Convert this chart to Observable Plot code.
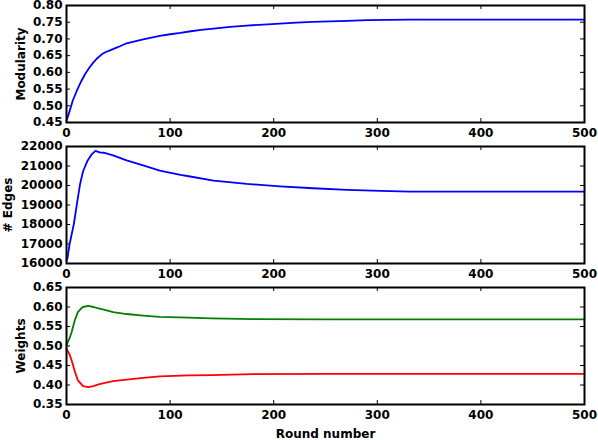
<!DOCTYPE html>
<html>
<head>
<meta charset="utf-8">
<script src="https://cdn.jsdelivr.net/npm/d3@7"></script>
<script src="https://cdn.jsdelivr.net/npm/@observablehq/plot@0.6"></script>
<style>
  html, body { margin: 0; padding: 0; background: white; }
  #chart { width: 598px; height: 440px; position: relative; }
  #chart svg { display: block; }
</style>
</head>
<body>
<div id="chart"></div>
<script>
// ---- Data ----
const xTicks = [0, 100, 200, 300, 400, 500];

const modRounds = [0, 3, 6, 10, 14, 18, 22, 26, 30, 34, 38, 42, 50, 58, 66, 74, 82, 90, 100, 110, 120, 130, 142, 158, 174, 190, 206, 222, 238, 254, 271, 290, 309, 332, 360, 400, 450, 500];
const modularity = [0.455, 0.484, 0.515, 0.545, 0.572, 0.595, 0.614, 0.630, 0.643, 0.654, 0.661, 0.666, 0.676, 0.687, 0.693, 0.699, 0.704, 0.709, 0.714, 0.718, 0.723, 0.727, 0.731, 0.736, 0.740, 0.743, 0.746, 0.749, 0.751, 0.7525, 0.754, 0.756, 0.757, 0.7575, 0.758, 0.758, 0.758, 0.758];
const modTicks = [0.45, 0.50, 0.55, 0.60, 0.65, 0.70, 0.75, 0.80];

const edgeRounds = [0, 1, 3, 7, 10, 13, 16, 20, 24, 28, 32, 36, 45, 58, 74, 90, 110, 118, 142, 174, 206, 238, 271, 303, 332, 360, 400, 450, 500];
const edges = [16150, 16300, 17000, 18000, 19030, 20050, 20730, 21240, 21580, 21780, 21700, 21680, 21545, 21290, 21035, 20765, 20540, 20475, 20255, 20080, 19960, 19860, 19775, 19725, 19690, 19690, 19690, 19690, 19690];
const edgeTicks = [16000, 17000, 18000, 19000, 20000, 21000, 22000];

const weightRounds = [0, 3, 5, 8, 11, 14, 16, 21, 26, 30, 36, 45, 58, 74, 90, 118, 140, 180, 250, 350, 500];
const weightGreen = [0.503, 0.520, 0.536, 0.566, 0.587, 0.596, 0.600, 0.603, 0.600, 0.597, 0.5935, 0.587, 0.582, 0.578, 0.5745, 0.573, 0.571, 0.569, 0.5685, 0.5685, 0.5685];
const weightRed = [0.493, 0.478, 0.463, 0.435, 0.412, 0.403, 0.397, 0.3945, 0.397, 0.401, 0.405, 0.410, 0.414, 0.4185, 0.422, 0.4245, 0.4255, 0.428, 0.4285, 0.4285, 0.4285];
const weightTicks = [0.35, 0.40, 0.45, 0.50, 0.55, 0.60, 0.65];

// ---- Layout ----
const W = 598, ML = 66, MR = 14;
const FW = W - ML - MR;
const FH = 117;
const TL = 4; // inward tick length

const style = {
  fontFamily: "'DejaVu Sans', sans-serif",
  fontWeight: "bold",
  fontSize: "12px",
  background: "white",
  color: "black",
  overflow: "visible"
};

function panel({series, yDomain, yTicks, yFormat, yLabel, yLabelOffset, xLabel, height, marginTop, marginBottom}) {
  const marks = [
    Plot.axisX(xTicks, {tickSize: 0, tickPadding: 6, label: xLabel || null, labelAnchor: "center", labelArrow: "none", labelOffset: 33}),
    Plot.axisY(yTicks, {tickSize: 0, tickPadding: 4, tickFormat: yFormat, label: yLabel, labelAnchor: "center", labelArrow: "none", labelOffset: yLabelOffset}),
    // inward ticks on all four sides
    Plot.tickX(xTicks, {x: d => d, insetTop: FH - TL, stroke: "black", strokeWidth: 1}),
    Plot.tickX(xTicks, {x: d => d, insetBottom: FH - TL, stroke: "black", strokeWidth: 1}),
    Plot.tickY(yTicks, {y: d => d, insetRight: FW - TL, stroke: "black", strokeWidth: 1}),
    Plot.tickY(yTicks, {y: d => d, insetLeft: FW - TL, stroke: "black", strokeWidth: 1}),
    ...series.map(s => Plot.line(s.rounds.map((r, i) => ({x: r, y: s.values[i]})), {x: "x", y: "y", stroke: s.color, strokeWidth: 1.8})),
    Plot.frame({stroke: "black", strokeWidth: 2})
  ];
  return Plot.plot({
    width: W,
    height,
    marginLeft: ML,
    marginRight: MR,
    marginTop,
    marginBottom,
    style,
    x: {domain: [0, 500]},
    y: {domain: yDomain},
    marks
  });
}

const chart = document.getElementById("chart");

chart.append(panel({
  series: [{rounds: modRounds, values: modularity, color: "#0000ff"}],
  yDomain: [0.45, 0.80], yTicks: modTicks, yFormat: d3.format(".2f"), yLabel: "Modularity", yLabelOffset: 50,
  height: 140, marginTop: 5, marginBottom: 18
}));

chart.append(panel({
  series: [{rounds: edgeRounds, values: edges, color: "#0000ff"}],
  yDomain: [16000, 22000], yTicks: edgeTicks, yFormat: d3.format("d"), yLabel: "# Edges", yLabelOffset: 63,
  height: 141, marginTop: 6, marginBottom: 18
}));

chart.append(panel({
  series: [
    {rounds: weightRounds, values: weightGreen, color: "#008000"},
    {rounds: weightRounds, values: weightRed, color: "#ff0000"}
  ],
  yDomain: [0.35, 0.65], yTicks: weightTicks, yFormat: d3.format(".2f"), yLabel: "Weights", yLabelOffset: 50,
  xLabel: "Round number",
  height: 159, marginTop: 6, marginBottom: 36
}));
</script>
</body>
</html>
